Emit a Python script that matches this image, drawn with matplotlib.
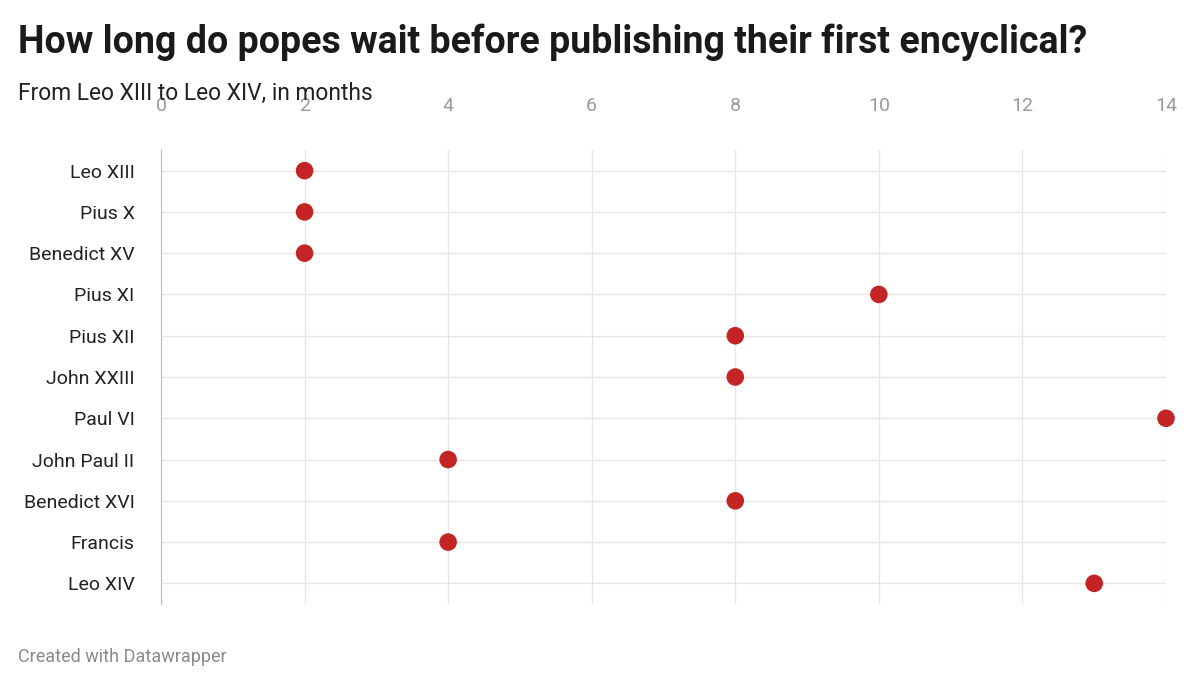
import matplotlib
matplotlib.use("Agg")
import matplotlib.pyplot as plt

popes = ["Leo XIII", "Pius X", "Benedict XV", "Pius XI", "Pius XII", "John XXIII",
         "Paul VI", "John Paul II", "Benedict XVI", "Francis", "Leo XIV"]
months = [2, 2, 2, 10, 8, 8, 14, 4, 8, 4, 13]
xticks = [0, 2, 4, 6, 8, 10, 12, 14]

plt.rcParams['font.family'] = ['Roboto', 'DejaVu Sans']
fig = plt.figure(figsize=(12, 6.88), dpi=100)
ax = fig.add_axes([161/1200, 1-604/688, (1166-161)/1200, 454/688])

y = list(range(len(popes)))
ax.scatter(months, y, s=160, color="#c42424", zorder=3, clip_on=False, edgecolors="none")
ax.set_ylim(len(popes)-0.5, -0.5)
ax.set_xlim(0, 14)
ax.set_yticks(y)
ax.set_yticklabels(popes, fontsize=14, color="#222222")
ax.set_xticks(xticks)
ax.set_xticklabels([str(t) for t in xticks], fontsize=14, color="#9a9a9a")
ax.xaxis.tick_top()
ax.tick_params(axis='y', length=0, pad=19)
ax.tick_params(axis='x', length=0, pad=25)
ax.grid(True, color="#e6e6e6", linewidth=1, zorder=0)
ax.set_axisbelow(True)
for s in ["top", "right", "bottom"]:
    ax.spines[s].set_visible(False)
ax.spines["left"].set_color("#bbbbbb")
ax.spines["left"].set_zorder(2)

fig.text(18/1200, 1-42/688, "How long do popes wait before publishing their first encyclical?",
         fontsize=27, fontweight="bold", color="#1a1a1a", va="center")
fig.text(18/1200, 1-93/688, "From Leo XIII to Leo XIV, in months",
         fontsize=16.4, color="#222222", va="center")
fig.text(18/1200, 1-657/688, "Created with Datawrapper",
         fontsize=13, color="#8a8a8a", va="center")

fig.savefig("out.png", dpi=100, facecolor="white")
